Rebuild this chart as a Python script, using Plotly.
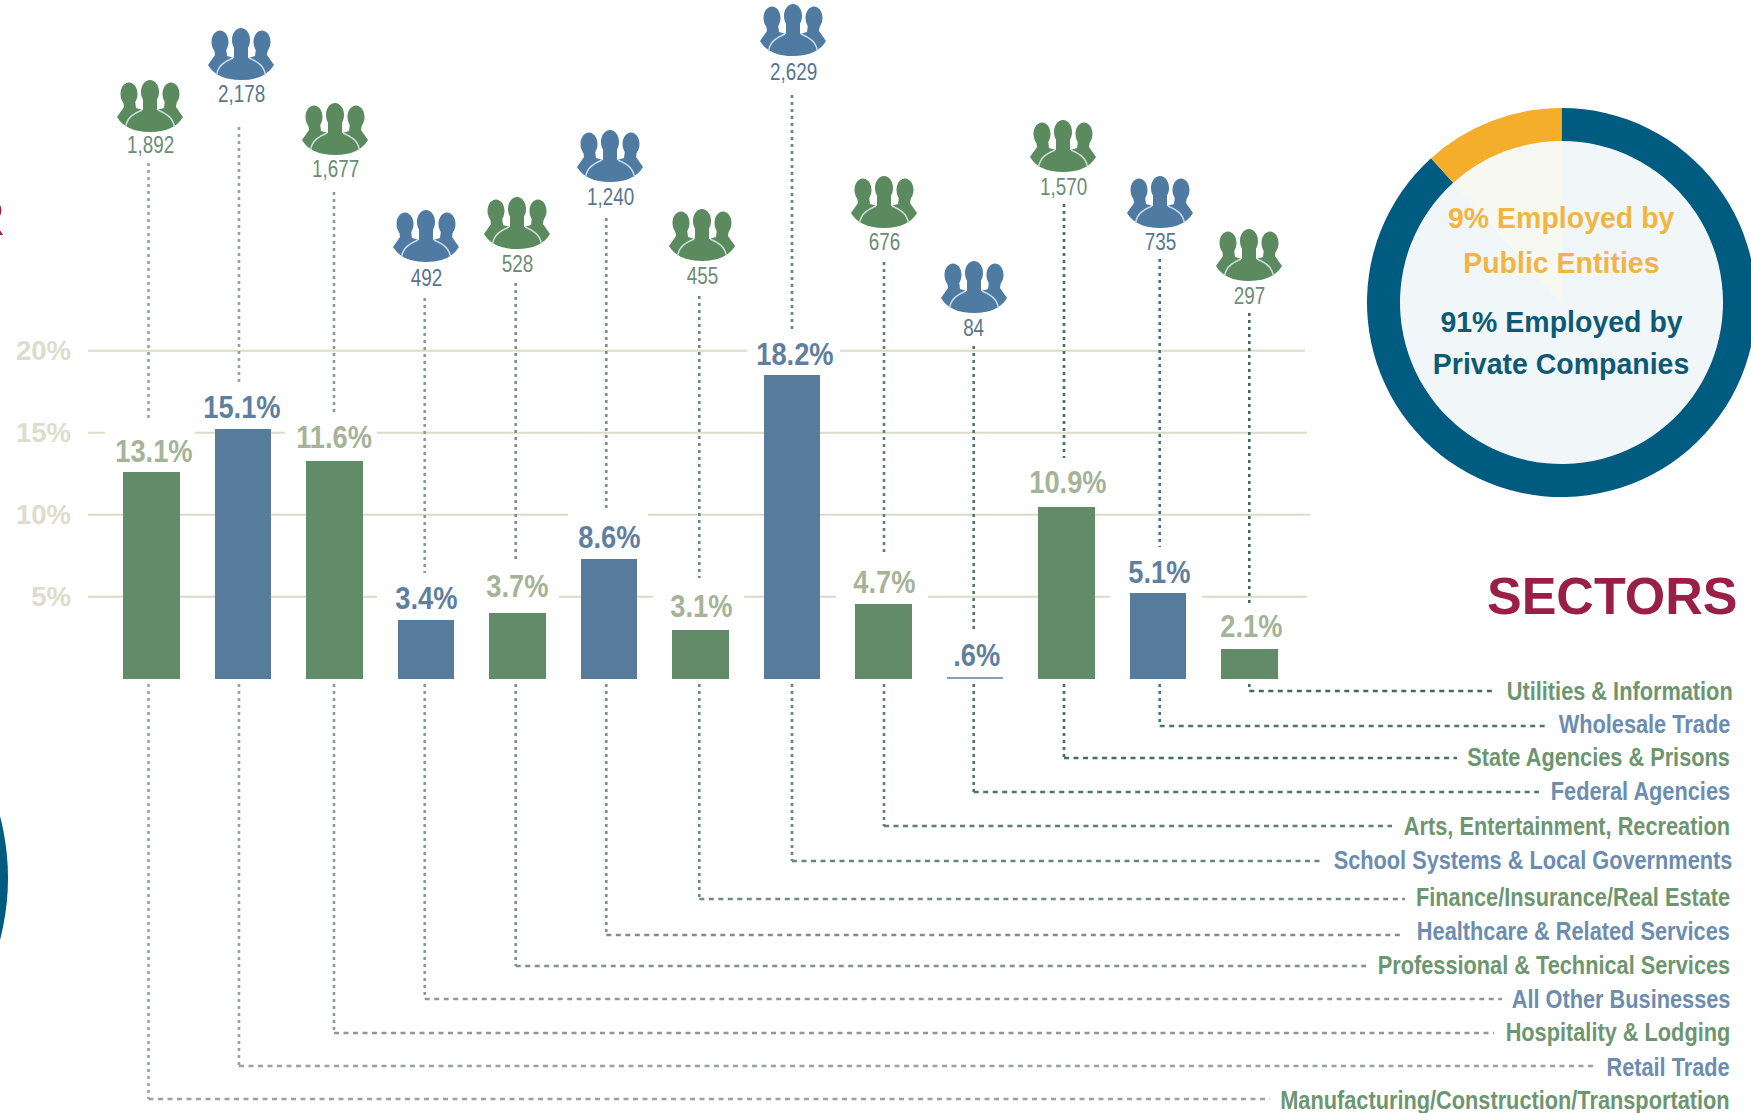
import plotly.graph_objects as go

# ---------- data ----------
categories = ["Manufacturing/Construction/Transportation", "Retail Trade", "Hospitality & Lodging",
              "All Other Businesses", "Professional & Technical Services", "Healthcare & Related Services",
              "Finance/Insurance/Real Estate", "School Systems & Local Governments",
              "Arts, Entertainment, Recreation", "Federal Agencies", "State Agencies & Prisons",
              "Wholesale Trade", "Utilities & Information"]
bar_heights = [12.6, 15.2, 13.3, 3.6, 4.0, 7.3, 3.0, 18.5, 4.55, 0.12, 10.5, 5.25, 1.8]
pct_labels = ["13.1%", "15.1%", "11.6%", "3.4%", "3.7%", "8.6%", "3.1%", "18.2%", "4.7%", ".6%", "10.9%", "5.1%", "2.1%"]
counts = ["1,892", "2,178", "1,677", "492", "528", "1,240", "455", "2,629", "676", "84", "1,570", "735", "297"]
groups = ["g", "b", "g", "b", "g", "b", "g", "b", "g", "b", "g", "b", "g"]
share_names = ["Private Companies", "Public Entities"]
share_values = [88.3, 11.7]
y_ticks = [5, 10, 15, 20]

# ---------- layout (pixel positions of the page) ----------
W, H = 1756, 1113
BAR_X0, BAR_STEP, BAR_W = 151.5, 91.5, 56.5
Y0, Y_PER_PCT = 678.7, 16.4
def X(px): return (px - BAR_X0) / BAR_STEP
def Y(py): return (Y0 - py) / Y_PER_PCT
def PX(px): return px / W
def PY(py): return 1 - py / H

GREEN, BLUE = "#628c68", "#567b9b"
ICON_G, ICON_B = "#5b8a5e", "#4f7ba3"
PCT_C = {"g": "#a5b499", "b": "#5f7f9f"}
CNT_C = {"g": "#6b8c76", "b": "#587590"}
LAB_C = {"g": "#6d9670", "b": "#6c8db0"}
GRID = "#dcdac8"
SANS = "Liberation Sans"

pct_pos = [(154, 451), (242, 408), (334, 437), (426, 598), (517, 586), (609, 537), (701, 606), (795, 354),
           (884, 582), (976, 655), (1068, 482), (1159, 572), (1251, 626)]
cnt_pos = [(150, 145), (241, 93), (335, 169), (426, 277), (517, 263), (610, 197), (702, 275), (793, 71),
           (884, 241), (974, 327), (1063, 187), (1160, 241), (1249, 296)]
icon_pos = [(150, 80), (241, 28), (335, 103), (426, 210), (517, 197), (610, 130), (702, 209), (793, 4),
            (884, 176), (974, 261), (1063, 120), (1160, 176), (1249, 229)]
line_x = [148.5, 239, 334, 424.7, 515.7, 606.3, 699.3, 792, 884, 973.7, 1064, 1159.7, 1249.3]
up_top = [163, 127, 192, 298, 283, 218, 296, 95, 262, 346, 204, 259, 313]
up_bot = [420, 383, 416, 573, 562, 508, 578, 329, 552, 632, 458, 547, 603]
low_top = [684] * 13
leader_y = [1099, 1066, 1033, 999, 966, 935, 899, 861, 826, 792, 758, 726, 691]
leader_end = [1270, 1593, 1494, 1502, 1366, 1404, 1405, 1321, 1392, 1539, 1457, 1547, 1496]
label_y = [1100, 1067, 1032, 999, 965, 931, 897, 860, 826, 791, 757, 724, 691]
label_r = [1731, 1731, 1731, 1731, 1731, 1731, 1731, 1733, 1731, 1731, 1731, 1731, 1734]
dot_c = ["#98a39e", "#98a39e", "#8d9a94", "#8d9a94", "#7f918a", "#7b8f8a", "#6f8a80", "#64867c",
         "#5a8072", "#4d7668", "#41705f", "#4a7470", "#3c6c5c"]
grid_segs = {20: [(88, 747), (840, 1305)],
             15: [(88, 105), (195, 285), (377, 1307)],
             10: [(88, 568), (648, 1310)],
             5: [(88, 377), (559, 653), (744, 836), (928, 1110), (1202, 1307)]}

fig = go.Figure()

for i in range(13):
    x = X(line_x[i])
    style_v = dict(color=dot_c[i], width=2.6, dash="3px,4px")
    style_h = dict(color=dot_c[i], width=2.4, dash="5px,4.5px")
    fig.add_trace(go.Scatter(x=[x, x], y=[Y(up_top[i]), Y(up_bot[i])], mode="lines", line=style_v,
                             hoverinfo="skip", showlegend=False))
    fig.add_trace(go.Scatter(x=[x, x], y=[Y(low_top[i]), Y(leader_y[i])], mode="lines", line=style_v,
                             hoverinfo="skip", showlegend=False))
    fig.add_trace(go.Scatter(x=[x, X(leader_end[i])], y=[Y(leader_y[i]), Y(leader_y[i])], mode="lines", line=style_h,
                             hoverinfo="skip", showlegend=False))

fig.add_trace(go.Bar(x=list(range(13)), y=bar_heights, width=BAR_W / BAR_STEP, hovertext=categories,
                     marker=dict(color=[GREEN if g == "g" else ("#8a9db3" if h < 1 else BLUE)
                                        for g, h in zip(groups, bar_heights)], line_width=0),
                     showlegend=False))

dom = dict(x=[PX(1367), 1], y=[PY(497), PY(108)])
fig.add_trace(go.Pie(labels=share_names, values=share_values, sort=False, direction="clockwise", rotation=0,
                     domain=dom, textinfo="none", showlegend=False,
                     marker=dict(colors=["#f1f6f9", "#f8f8f3"], line_width=0), hoverinfo="skip"))
fig.add_trace(go.Pie(labels=share_names, values=share_values, sort=False, direction="clockwise", rotation=0,
                     domain=dom, hole=161.5 / 194.5, textinfo="none", showlegend=False,
                     marker=dict(colors=["#005b80", "#f4ae2c"], line_width=0)))

shapes = []
for v, segs in grid_segs.items():
    for a, b in segs:
        shapes.append(dict(type="line", xref="x", yref="y", x0=X(a), x1=X(b), y0=v, y1=v,
                           line=dict(color=GRID, width=2), layer="below"))

def ell(cx, cy, rx, ry):
    k = 0.5523
    return (f"M{cx-rx},{-cy} C{cx-rx},{-(cy-k*ry)} {cx-k*rx},{-(cy-ry)} {cx},{-(cy-ry)} "
            f"C{cx+k*rx},{-(cy-ry)} {cx+rx},{-(cy-k*ry)} {cx+rx},{-cy} "
            f"C{cx+rx},{-(cy+k*ry)} {cx+k*rx},{-(cy+ry)} {cx},{-(cy+ry)} "
            f"C{cx-k*rx},{-(cy+ry)} {cx-rx},{-(cy+k*ry)} {cx-rx},{-cy} Z ")

head_path = ell(-21, 14, 8.5, 11.5) + ell(21, 14, 8.5, 11.5) + ell(0, 12, 9, 12)
body_path = ("M-27,-20 L-26,-27 L-33,-37 Q-24,-52 0,-52 Q24,-52 33,-37 L26,-27 L27,-20 L15,-20 L14,-28 L7,-30 "
             "L7,-18 L-7,-18 L-7,-30 L-14,-28 L-15,-20 Z")
seam_path = "M-24.5,-47 C-23,-37 -15,-33 -8,-30 M24.5,-47 C23,-37 15,-33 8,-30"
for i, (ix, iy) in enumerate(icon_pos):
    col = ICON_G if groups[i] == "g" else ICON_B
    common = dict(type="path", xsizemode="pixel", ysizemode="pixel", xref="x", yref="y",
                  xanchor=X(ix), yanchor=Y(iy), layer="above")
    shapes.append(dict(path=body_path, fillcolor=col, line=dict(width=0), **common))
    shapes.append(dict(path=head_path, fillcolor=col, line=dict(width=0), **common))
    shapes.append(dict(path=seam_path, fillcolor="rgba(0,0,0,0)",
                       line=dict(color="#c9dfd8" if groups[i] == "g" else "#c5dcec", width=1.5), **common))

shapes.append(dict(type="circle", xref="paper", yref="paper", x0=PX(8 - 488), x1=PX(8), y0=PY(878 + 244), y1=PY(878 - 244),
                   fillcolor="#005b80", line_width=0, layer="below"))

ann = []
def text(x, y, s, size, color, bold=True, anchor="center"):
    ann.append(dict(xref="paper", yref="paper", x=PX(x), y=PY(y), text=s, showarrow=False,
                    xanchor=anchor, yanchor="middle",
                    font=dict(size=size, color=color, family=SANS, weight="bold" if bold else "normal"),
                    borderpad=0))

for i in range(13):
    g = groups[i]
    text(*pct_pos[i], pct_labels[i], 31, PCT_C[g])
    text(*cnt_pos[i], counts[i], 24.5, CNT_C[g], bold=False)
    text(label_r[i], label_y[i], categories[i], 25, LAB_C[g], anchor="right")

text(1612, 596, "SECTORS", 52, "#9a1f47")
text(5, 218, "R", 50, "#9a1f47", anchor="right")
text(1561, 218, "9% Employed by", 30, "#f2b544")
text(1561, 262, "Public Entities", 30, "#f2b544")
text(1561, 322, "91% Employed by", 30, "#0e5a74")
text(1561, 364, "Private Companies", 30, "#0e5a74")

fig.update_layout(
    width=W, height=H, margin=dict(l=0, r=0, t=0, b=0, pad=0), paper_bgcolor="white", plot_bgcolor="rgba(0,0,0,0)",
    shapes=shapes, annotations=ann, showlegend=False, bargap=0,
    xaxis=dict(range=[X(0), X(W)], visible=False, fixedrange=True),
    yaxis=dict(range=[Y(H), Y(0)], anchor="free", position=PX(71), side="left", showgrid=False, zeroline=False,
               showline=False, ticks="", tickmode="array", tickvals=y_ticks, ticktext=[f"{t}%" for t in y_ticks],
               tickfont=dict(size=27.5, color="#dedccb", family=SANS, weight="bold"), fixedrange=True),
)
post = """
document.documentElement.style.overflow='hidden';
document.body.style.margin='0';
document.body.style.overflow='hidden';
var F={'31px':0.88,'25px':0.87,'24.5px':0.77,'30px':0.95};
document.querySelectorAll('.annotation-text').forEach(function(t){
  var fs=t.style.fontSize, f=F[fs]; if(!f) return;
  var w=t.getComputedTextLength();
  var x=parseFloat(t.getAttribute('x'))||0;
  var ax=(fs==='25px')? x+w/2 : x;
  var old=t.getAttribute('transform')||'';
  t.setAttribute('transform',old+' translate('+ax+',0) scale('+f+',1) translate('+(-ax)+',0)');
});
"""
fig.write_html("out.html", config=dict(displayModeBar=False), post_script=post)
